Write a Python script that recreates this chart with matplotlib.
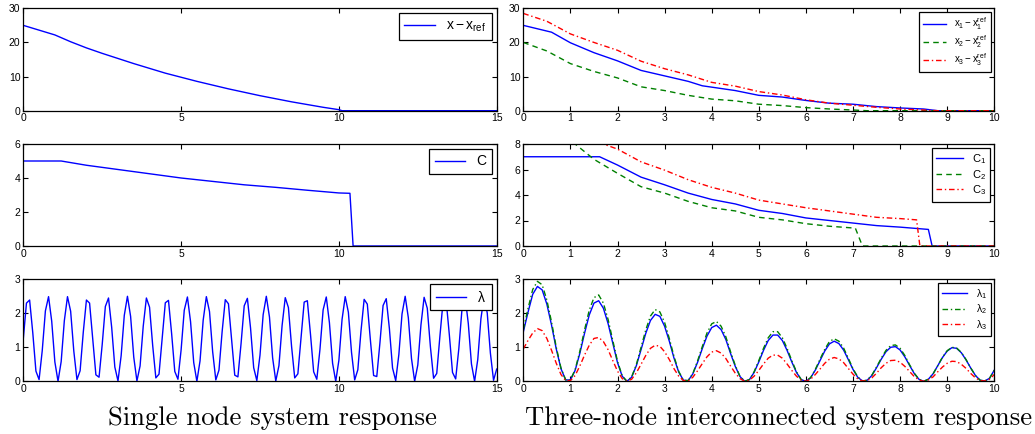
import numpy as np
import matplotlib
matplotlib.use('Agg')
import matplotlib.pyplot as plt

plt.rcParams['font.family'] = ['Liberation Sans', 'DejaVu Sans']
plt.rcParams['mathtext.fontset'] = 'custom'
plt.rcParams['mathtext.rm'] = 'Liberation Sans'
plt.rcParams['mathtext.it'] = 'Liberation Sans'
plt.rcParams['mathtext.bf'] = 'Liberation Sans'

# ---- single node (left column) ----
t_x_single = [0, 0.5, 1, 1.5, 2, 2.5, 3, 3.5, 4, 4.5, 5, 5.5, 6, 6.5, 7, 7.5,
              8, 8.5, 9, 9.5, 10, 10.1, 15]
x_single = [25, 23.6, 22.2, 20.2, 18.4, 16.8, 15.3, 13.8, 12.4, 11.0, 9.8, 8.6,
            7.5, 6.4, 5.4, 4.4, 3.5, 2.6, 1.8, 1.0, 0.3, 0, 0]

t_c_single = [0, 1.2, 2, 3, 4, 5, 6, 7, 8, 9, 10, 10.35, 10.45, 15]
c_single = [5, 5, 4.75, 4.5, 4.25, 4.0, 3.8, 3.6, 3.45, 3.28, 3.12, 3.1, 0, 0]

# lambda sampled every 0.1 s, 0 .. 15
lam_single = [
    1.25, 2.30, 2.39, 1.43, 0.30, 0.05, 0.90, 2.07, 2.49, 1.77,
    0.57, 0.00, 0.58, 1.78, 2.49, 2.06, 0.89, 0.05, 0.31, 1.44,
    2.39, 2.30, 1.24, 0.19, 0.12, 1.08, 2.20, 2.45, 1.59, 0.42,
    0.01, 0.75, 1.94, 2.50, 1.91, 0.71, 0.01, 0.45, 1.62, 2.45,
    2.18, 1.05, 0.10, 0.21, 1.27, 2.31, 2.38, 1.40, 0.29, 0.06,
    0.92, 2.09, 2.48, 1.75, 0.55, 0.00, 0.60, 1.80, 2.49, 2.05,
    0.87, 0.04, 0.33, 1.46, 2.40, 2.28, 1.22, 0.18, 0.13, 1.11,
    2.22, 2.44, 1.57, 0.40, 0.02, 0.77, 1.96, 2.50, 1.89, 0.69,
    0.01, 0.46, 1.64, 2.46, 2.17, 1.03, 0.10, 0.22, 1.29, 2.33,
    2.37, 1.38, 0.28, 0.06, 0.94, 2.10, 2.48, 1.72, 0.53, 0.00,
    0.62, 1.82, 2.49, 2.03, 0.85, 0.04, 0.34, 1.48, 2.41, 2.27,
    1.19, 0.17, 0.14, 1.13, 2.23, 2.43, 1.55, 0.39, 0.02, 0.79,
    1.98, 2.50, 1.87, 0.67, 0.00, 0.48, 1.66, 2.47, 2.15, 1.01,
    0.09, 0.23, 1.32, 2.34, 2.36, 1.36, 0.26, 0.07, 0.96, 2.12,
    2.48, 1.70, 0.51, 0.00, 0.64, 1.84, 2.50, 2.01, 0.83, 0.03,
    0.36]
t_lam_single = np.arange(len(lam_single)) * 0.1

# ---- three nodes (right column) ----
t_x1 = [0, 0.6, 1, 1.5, 2, 2.5, 3, 3.5, 3.8, 4, 4.5, 5, 5.5, 6, 6.5, 7, 7.5, 8, 8.5, 8.8, 10]
x1 = [25, 23, 19.9, 17.0, 14.6, 11.8, 10.2, 8.6, 7.3, 6.9, 5.9, 4.5, 4.0, 3.0, 2.2, 1.9, 1.2, 0.8, 0.5, 0, 0]
t_x2 = [0, 0.5, 1, 1.5, 2, 2.5, 3, 3.5, 4, 4.5, 5, 5.5, 6, 6.5, 7, 7.3, 10]
x2 = [20, 17.5, 13.8, 11.5, 9.6, 7.0, 5.9, 4.5, 3.4, 2.9, 1.9, 1.5, 0.9, 0.5, 0.2, 0, 0]
t_x3 = [0, 0.5, 1, 1.5, 2, 2.5, 3, 3.5, 4, 4.5, 5, 5.5, 6, 6.5, 7, 7.5, 8, 8.5, 8.8, 10]
x3 = [28.5, 26.2, 22.5, 20, 17.7, 14.5, 12.3, 10.5, 8.3, 7.2, 5.6, 4.6, 3.2, 2.2, 1.6, 1.0, 0.5, 0.2, 0, 0]

t_c1 = [0, 1.62, 2.0, 2.5, 3.0, 3.5, 4.0, 4.5, 5.0, 5.5, 6.0, 6.5, 7.0, 7.5, 8.0, 8.6, 8.68, 10]
c1 = [7, 7, 6.35, 5.4, 4.8, 4.15, 3.65, 3.3, 2.8, 2.55, 2.2, 2.0, 1.8, 1.6, 1.48, 1.3, 0, 0]
t_c2 = [0, 1.1, 1.5, 2.0, 2.5, 3.0, 3.5, 4.0, 4.5, 5.0, 5.5, 6.0, 6.5, 7.05, 7.2, 10]
c2 = [8, 8, 6.8, 5.7, 4.65, 4.15, 3.5, 3.0, 2.75, 2.25, 2.05, 1.75, 1.55, 1.4, 0, 0]
t_c3 = [0, 1.7, 2.0, 2.5, 3.0, 3.5, 4.0, 4.5, 5.0, 5.5, 6.0, 6.5, 7.0, 7.5, 8.0, 8.35, 8.42, 10]
c3 = [8, 8, 7.6, 6.6, 5.95, 5.2, 4.6, 4.15, 3.6, 3.3, 3.0, 2.75, 2.5, 2.25, 2.15, 2.05, 0, 0]

# lambda_i sampled every 0.1 s, 0 .. 10
lam1 = [
    1.45, 2.03, 2.56, 2.79, 2.69, 2.27, 1.65, 0.95, 0.37, 0.04,
    0.04, 0.32, 0.82, 1.41, 1.95, 2.30, 2.37, 2.15, 1.70, 1.12,
    0.55, 0.15, 0.00, 0.12, 0.46, 0.93, 1.41, 1.79, 1.97, 1.91,
    1.62, 1.18, 0.68, 0.27, 0.03, 0.02, 0.22, 0.56, 0.96, 1.33,
    1.58, 1.65, 1.52, 1.23, 0.82, 0.44, 0.14, 0.00, 0.05, 0.26,
    0.57, 0.91, 1.20, 1.36, 1.36, 1.20, 0.91, 0.57, 0.26, 0.05,
    0.00, 0.10, 0.33, 0.61, 0.89, 1.10, 1.18, 1.11, 0.92, 0.64,
    0.35, 0.12, 0.01, 0.03, 0.17, 0.40, 0.65, 0.87, 1.00, 1.02,
    0.92, 0.72, 0.47, 0.23, 0.06, 0.00, 0.06, 0.22, 0.46, 0.70,
    0.89, 0.99, 0.97, 0.84, 0.63, 0.39, 0.17, 0.03, 0.01, 0.09,
    0.33]
lam2 = [
    1.52, 2.14, 2.70, 2.94, 2.84, 2.39, 1.74, 1.00, 0.39, 0.04,
    0.04, 0.34, 0.88, 1.51, 2.09, 2.46, 2.54, 2.30, 1.82, 1.20,
    0.59, 0.16, 0.00, 0.13, 0.49, 1.00, 1.51, 1.92, 2.11, 2.04,
    1.73, 1.26, 0.73, 0.29, 0.03, 0.02, 0.23, 0.60, 1.02, 1.42,
    1.69, 1.76, 1.62, 1.31, 0.87, 0.47, 0.15, 0.00, 0.05, 0.28,
    0.61, 0.97, 1.28, 1.46, 1.46, 1.28, 0.97, 0.61, 0.28, 0.05,
    0.00, 0.11, 0.35, 0.65, 0.94, 1.17, 1.25, 1.18, 0.98, 0.68,
    0.37, 0.13, 0.01, 0.03, 0.18, 0.42, 0.68, 0.91, 1.05, 1.07,
    0.97, 0.76, 0.49, 0.24, 0.06, 0.00, 0.06, 0.22, 0.46, 0.71,
    0.90, 1.00, 0.98, 0.85, 0.64, 0.39, 0.17, 0.03, 0.01, 0.09,
    0.33]
lam3 = [
    0.95, 1.20, 1.42, 1.55, 1.49, 1.26, 0.91, 0.53, 0.20, 0.02,
    0.02, 0.17, 0.45, 0.77, 1.06, 1.26, 1.29, 1.17, 0.93, 0.61,
    0.30, 0.08, 0.00, 0.06, 0.25, 0.50, 0.76, 0.97, 1.06, 1.03,
    0.87, 0.64, 0.37, 0.15, 0.02, 0.01, 0.12, 0.31, 0.52, 0.72,
    0.86, 0.90, 0.83, 0.67, 0.45, 0.24, 0.08, 0.00, 0.03, 0.15,
    0.32, 0.51, 0.68, 0.77, 0.77, 0.68, 0.51, 0.32, 0.15, 0.03,
    0.00, 0.06, 0.20, 0.36, 0.53, 0.65, 0.70, 0.66, 0.55, 0.38,
    0.21, 0.07, 0.01, 0.02, 0.10, 0.24, 0.40, 0.53, 0.61, 0.62,
    0.56, 0.44, 0.29, 0.14, 0.04, 0.00, 0.04, 0.13, 0.28, 0.42,
    0.53, 0.59, 0.58, 0.50, 0.38, 0.23, 0.10, 0.02, 0.01, 0.06,
    0.20]
t_lam = np.arange(len(lam1)) * 0.1

BLUE = (0, 0, 1)
GREEN = (0, 0.5, 0)
RED = (1, 0, 0)
LW = 1.0

W, H = 1035, 434
fig = plt.figure(figsize=(W / 100, H / 100), dpi=100)


def make_ax(x0, y_top, w, h):
    ax = fig.add_axes([x0 / W, 1 - (y_top + h) / H, w / W, h / H])
    ax.tick_params(direction='in', top=True, right=True, length=3.5,
                   width=0.8, labelsize=7.5, pad=2)
    for s in ax.spines.values():
        s.set_linewidth(0.9)
    return ax


def style_legend(ax, fs, **kw):
    leg = ax.legend(loc='upper right', fontsize=fs, frameon=True, fancybox=False,
                    framealpha=1, edgecolor='black', borderaxespad=0.35, **kw)
    leg.get_frame().set_linewidth(0.9)
    return leg


LX, LW_ = 23.3, 473.4
RX, RW = 523.3, 471.0
rows = [(8.3, 102.4), (144, 102), (279.3, 102)]

# left column
ax = make_ax(LX, rows[0][0], LW_, rows[0][1])
ax.plot(t_x_single, x_single, color=BLUE, lw=LW, label=r'$\mathregular{x-x_{ref}}$')
ax.set_xlim(0, 15); ax.set_ylim(0, 30)
ax.set_xticks([0, 5, 10, 15]); ax.set_yticks([0, 10, 20, 30])
style_legend(ax, 10, handlelength=2.2)

ax = make_ax(LX, rows[1][0], LW_, rows[1][1])
ax.plot(t_c_single, c_single, color=BLUE, lw=LW, label='C')
ax.set_xlim(0, 15); ax.set_ylim(0, 6)
ax.set_xticks([0, 5, 10, 15]); ax.set_yticks([0, 2, 4, 6])
style_legend(ax, 10, handlelength=2.2)

ax = make_ax(LX, rows[2][0], LW_, rows[2][1])
ax.plot(t_lam_single, lam_single, color=BLUE, lw=LW, label=r'$\lambda$')
ax.set_xlim(0, 15); ax.set_ylim(0, 3)
ax.set_xticks([0, 5, 10, 15]); ax.set_yticks([0, 1, 2, 3])
style_legend(ax, 10, handlelength=2.2)

# right column
ax = make_ax(RX, rows[0][0], RW, rows[0][1])
ax.plot(t_x1, x1, color=BLUE, lw=LW, label=r'$\mathregular{x_1-x_1^{ref}}$')
ax.plot(t_x2, x2, color=GREEN, lw=LW, ls=(0, (4, 3)), label=r'$\mathregular{x_2-x_2^{ref}}$')
ax.plot(t_x3, x3, color=RED, lw=LW, ls=(0, (4, 2, 1, 2)), label=r'$\mathregular{x_3-x_3^{ref}}$')
ax.set_xlim(0, 10); ax.set_ylim(0, 30)
ax.set_xticks(range(11)); ax.set_yticks([0, 10, 20, 30])
style_legend(ax, 7, handlelength=2.4, labelspacing=0.1)

ax = make_ax(RX, rows[1][0], RW, rows[1][1])
ax.plot(t_c1, c1, color=BLUE, lw=LW, label=r'$\mathregular{C_1}$')
ax.plot(t_c2, c2, color=GREEN, lw=LW, ls=(0, (4, 3)), label=r'$\mathregular{C_2}$')
ax.plot(t_c3, c3, color=RED, lw=LW, ls=(0, (4, 2, 1, 2)), label=r'$\mathregular{C_3}$')
ax.set_xlim(0, 10); ax.set_ylim(0, 8)
ax.set_xticks(range(11)); ax.set_yticks([0, 2, 4, 6, 8])
style_legend(ax, 8, handlelength=2.4, labelspacing=0.15)

ax = make_ax(RX, rows[2][0], RW, rows[2][1])
ax.plot(t_lam, lam1, color=BLUE, lw=LW, label=r'$\lambda_1$')
ax.plot(t_lam, lam2, color=GREEN, lw=LW, ls=(0, (4, 2, 1, 2)), label=r'$\lambda_2$')
ax.plot(t_lam, lam3, color=RED, lw=LW, ls=(0, (4, 2, 1, 2)), label=r'$\lambda_3$')
ax.set_xlim(0, 10); ax.set_ylim(0, 3)
ax.set_xticks(range(11)); ax.set_yticks([0, 1, 2, 3])
style_legend(ax, 7.5, handlelength=2.4, labelspacing=0.15)

# captions
fig.text(272.5 / W, 1 - 418 / H, 'Single node system response', family=['cmr10', 'DejaVu Serif'],
         fontsize=19.2, ha='center', va='center')
fig.text(778.5 / W, 1 - 418 / H, 'Three-node interconnected system response',
         family=['cmr10', 'DejaVu Serif'], fontsize=19.2, ha='center', va='center')

fig.savefig('out.png', dpi=100)
